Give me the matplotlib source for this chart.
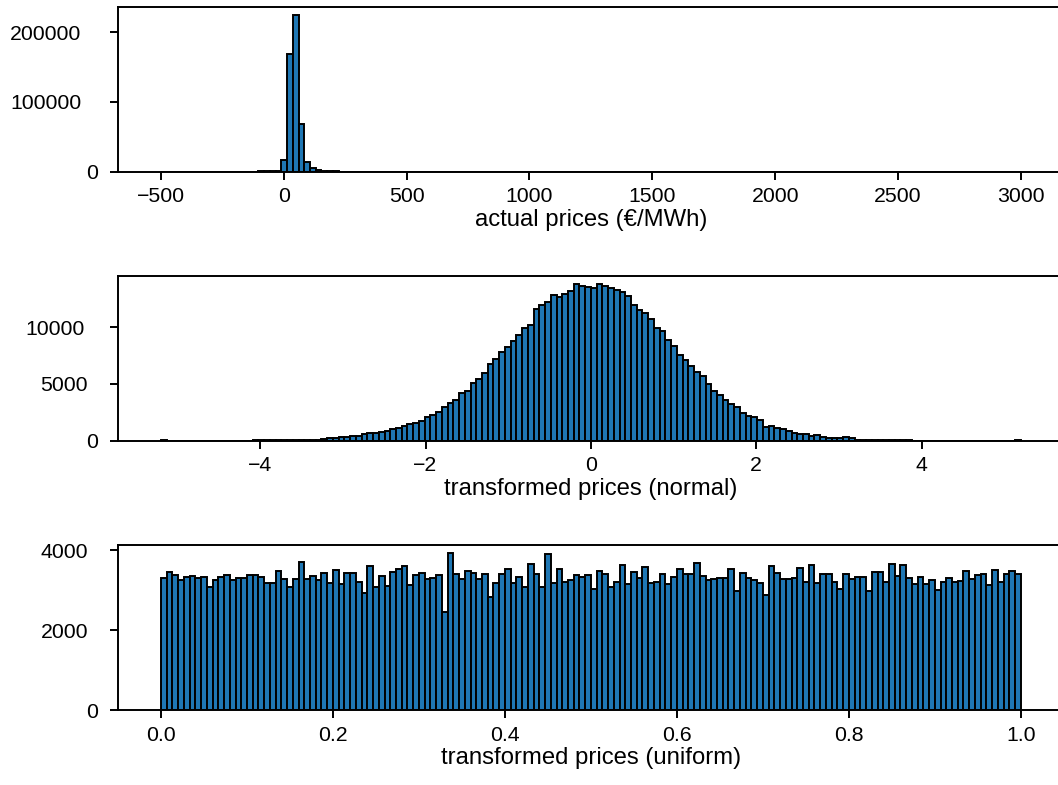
import numpy as np
import matplotlib.pyplot as plt
import matplotlib.transforms as mtransforms

plt.rcParams['font.family'] = ['Liberation Sans', 'DejaVu Sans']
plt.rcParams['axes.linewidth'] = 1.4

# histogram counts, 150 equal bins per panel
price_edges = np.linspace(-500, 3000, 151)
price_counts = (
    [150, 20, 10, 10, 10, 10, 10, 20, 20, 30, 30, 40, 50, 60, 150, 200, 250, 300, 400, 600]
    + [1000, 16740, 168400, 225200, 68240, 13500, 6000, 3000, 1400, 700]
    + [400, 250, 180, 130, 100, 80, 70, 60, 50, 45]
    + [40, 40, 35, 35, 30, 30, 30, 25, 25, 25]
    + [20, 20, 20, 20, 20, 20, 20, 20, 20, 20]
    + [15] * 30
    + [10] * 30
    + [5] * 29
    + [30]
)

normal_edges = np.linspace(-5.2, 5.2, 151)
normal_counts = (
    [40, 10, 10, 5, 5, 5, 5, 5, 5, 5, 10, 10, 10, 15, 15, 15, 20, 20, 25, 25]
    + [30, 35, 40, 45, 50, 60, 70, 90, 110, 270]
    + [210, 330, 360, 420, 450, 590, 650, 710, 740, 860]
    + [1000, 1120, 1300, 1480, 1590, 1740, 2060, 2300, 2560, 2950]
    + [3360, 3590, 4180, 4390, 5060, 5470, 6000, 6770, 7180, 7830]
    + [8240, 8830, 9330, 9920, 10210, 11590, 11970, 12210, 12860, 12650]
    + [12940, 13180, 13830, 13650, 13530, 13440, 13830, 13680, 13440, 13300]
    + [13150, 12770, 11970, 11530, 11300, 10740, 9920, 9680, 8890, 8360]
    + [7560, 7120, 6590, 6090, 5710, 5000, 4390, 4030, 3590, 3210]
    + [3000, 2480, 2210, 2120, 1830, 1240, 1330, 1150, 1000, 890]
    + [710, 590, 590, 420, 480, 300, 210, 210, 210, 360]
    + [210, 90, 70, 60, 50, 40, 35, 30, 25, 20]
    + [20, 15, 15, 10, 10, 10, 5, 5, 5, 5]
    + [5, 5, 5, 5, 5, 5, 5, 5, 10, 40]
)

uniform_edges = np.linspace(0, 1, 151)
uniform_counts = [
    3292, 3458, 3367, 3250, 3325, 3358, 3300, 3333, 3083, 3250,
    3317, 3383, 3250, 3292, 3292, 3375, 3367, 3325, 3167, 3167,
    3483, 3283, 3083, 3267, 3692, 3283, 3350, 3250, 3417, 3167,
    3500, 3150, 3417, 3425, 3200, 2933, 3592, 3083, 3350, 3108,
    3458, 3533, 3608, 3125, 3375, 3417, 3267, 3292, 3375, 2450,
    3933, 3392, 3267, 3467, 3433, 3267, 3400, 2817, 3167, 3392,
    3525, 3167, 3333, 3067, 3642, 3392, 3083, 3900, 3167, 3533,
    3192, 3242, 3375, 3325, 3367, 3033, 3475, 3392, 3083, 3208,
    3625, 3150, 3458, 3292, 3567, 3183, 3200, 3408, 3150, 3317,
    3533, 3408, 3400, 3667, 3358, 3250, 3283, 3308, 3292, 3533,
    2983, 3425, 3308, 3258, 3167, 2867, 3608, 3433, 3267, 3275,
    3308, 3542, 3208, 3633, 3183, 3408, 3392, 3200, 3033, 3408,
    3283, 3317, 3333, 2975, 3450, 3442, 3192, 3642, 3350, 3625,
    3300, 3142, 3317, 3142, 3250, 3000, 3192, 3300, 3200, 3233,
    3483, 3283, 3375, 3408, 3133, 3508, 3192, 3400, 3483, 3400,
]

xlabels = ['actual prices (€/MWh)', 'transformed prices (normal)', 'transformed prices (uniform)']
yticks = [[0, 100000, 200000], [0, 5000, 10000], [0, 2000, 4000]]
xticks = [None, [-4, -2, 0, 2, 4], [0.0, 0.2, 0.4, 0.6, 0.8, 1.0]]

W, H = 1058, 785
fig = plt.figure(figsize=(W / 100, H / 100), dpi=100)
# axes boxes in pixels: left, top, right, bottom
boxes = [(118, 6.7, 1063.8, 171.7), (118, 276, 1063.8, 440.7), (118, 545, 1063.8, 710)]

panels = [(price_edges, price_counts), (normal_edges, normal_counts), (uniform_edges, uniform_counts)]
for (edges, counts), box, lab, yt, xt in zip(panels, boxes, xlabels, yticks, xticks):
    l, t, r, b = box
    ax = fig.add_axes([l / W, 1 - b / H, (r - l) / W, (b - t) / H])
    centers = 0.5 * (edges[:-1] + edges[1:])
    ax.hist(centers, bins=edges, weights=counts, color='#1f77b4',
            edgecolor='black', linewidth=1.4)
    ax.set_yticks(yt)
    if xt is not None:
        ax.set_xticks(xt)
        if isinstance(xt[0], float):
            ax.set_xticklabels([f'{v:.1f}' for v in xt])
    ax.tick_params(labelsize=15.3, length=5.8, width=1.4)
    ax.tick_params(axis='x', pad=5.5)
    ax.tick_params(axis='y', pad=8.5)
    ax.set_xlabel(lab, fontsize=17.2, labelpad=2)
    # longer y labels sit further left
    for v, lbl in zip(yt, ax.get_yticklabels()):
        n = len(str(v))
        shift = mtransforms.ScaledTranslation(-3.4 * (n - 1) / 100, 0, fig.dpi_scale_trans)
        lbl.set_transform(lbl.get_transform() + shift)

fig.savefig('out.png', dpi=100)
